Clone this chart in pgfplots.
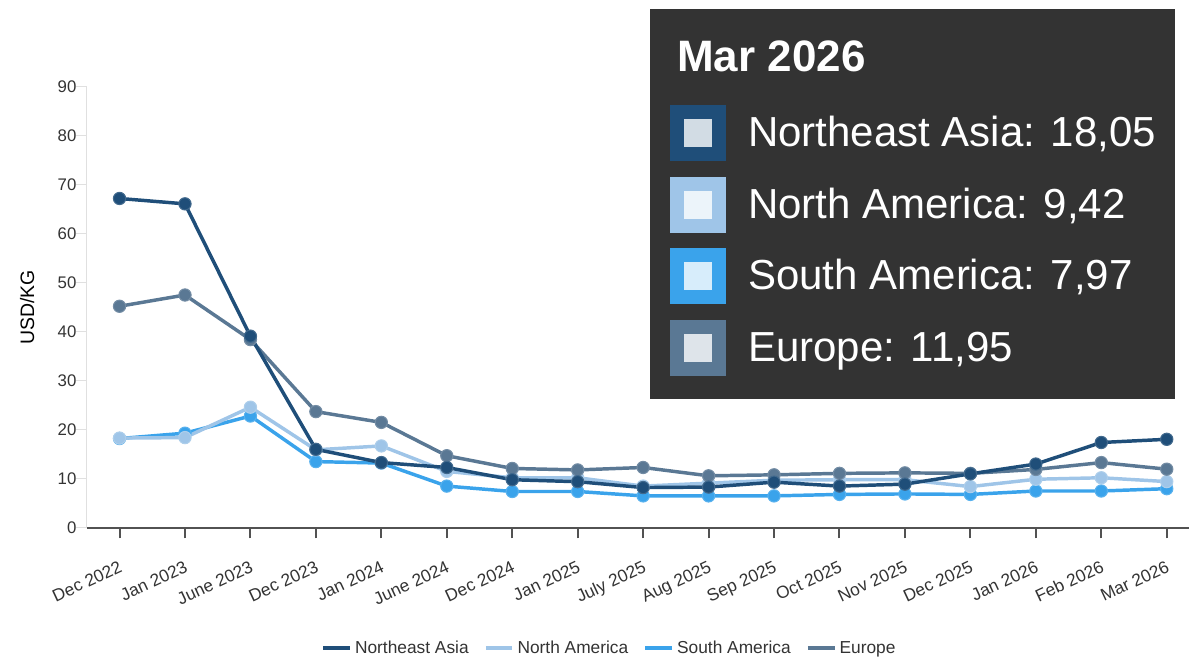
\documentclass[border=0pt]{standalone}
\usepackage{fontspec}
\setmainfont{Liberation Sans}
\usepackage{pgfplots}
\usepackage{pgfplotstable}
\pgfplotsset{compat=1.18}

\definecolor{neasia}{HTML}{1F4E79}
\definecolor{namer}{HTML}{9FC5E8}
\definecolor{samer}{HTML}{3AA3EB}
\definecolor{europe}{HTML}{5A7894}
\definecolor{txt}{HTML}{333333}
\definecolor{tipbg}{HTML}{333333}

% idx: Dec22 Jan23 Jun23 Dec23 Jan24 Jun24 Dec24 Jan25 Jul25 Aug25 Sep25 Oct25 Nov25 Dec25 Jan26 Feb26 Mar26
\pgfplotstableread{
x  NE     NA    SA    EU
0  67.2   18.3  18.2  45.2
1  66.1   18.4  19.3  47.5
2  39.1   24.6  22.8  38.4
3  16.0   15.9  13.5  23.7
4  13.3   16.7  13.2  21.5
5  12.3   11.5  8.5   14.7
6  9.8    10.2  7.4   12.1
7  9.4    10.2  7.4   11.8
8  8.2    8.5   6.5   12.3
9  8.3    9.1   6.5   10.6
10 9.3    9.7   6.5   10.8
11 8.5    9.8   6.8   11.1
12 8.9    9.8   6.9   11.2
13 11.0   8.4   6.8   11.1
14 13.0   9.9   7.5   11.9
15 17.4   10.2  7.5   13.3
16 18.05  9.42  7.97  11.95
}\prices

\begin{document}
\begin{tikzpicture}
\useasboundingbox (0,0) rectangle (891.75pt,-493.5pt);
\begin{axis}[
    scale only axis,
    width=834.5pt, height=330.75pt,
    at={(65.1pt,-395.8pt)}, anchor=south west,
    xmin=-0.5, xmax=16.5,
    ymin=0, ymax=90,
    axis lines*=left,
    x axis line style={draw=txt!85, line width=1.5pt},
    y axis line style={draw=black!12, line width=0.75pt},
    tick align=outside,
    xtick=data,
    xticklabels={Dec 2022,Jan 2023,June 2023,Dec 2023,Jan 2024,June 2024,Dec 2024,Jan 2025,July 2025,Aug 2025,Sep 2025,Oct 2025,Nov 2025,Dec 2025,Jan 2026,Feb 2026,Mar 2026},
    ytick={0,10,...,90},
    xtick style={draw=txt!85, line width=1.5pt, /pgfplots/major tick length=8pt},
    ytick style={draw=black!12, line width=0.75pt, /pgfplots/major tick length=8pt},
    /pgf/number format/assume math mode=true,
    xticklabel style={font=\fontsize{13pt}{14pt}\selectfont, text=txt,
        yshift=-17pt, rotate=25, anchor=north east, inner sep=2pt},
    yticklabel style={font=\fontsize{12.6pt}{14pt}\selectfont, text=txt},
    ylabel={USD/KG},
    ylabel style={at={(axis description cs:-0.0537,0.5)}, anchor=center,
        font=\fontsize{14.6pt}{16pt}\selectfont, text=black},
    legend style={at={(axis description cs:0.4698,-0.2728)}, anchor=center,
        draw=none, fill=none, font=\fontsize{13pt}{15pt}\selectfont, text=txt,
        /tikz/every even column/.append style={column sep=9pt}},
    legend columns=4,
    legend cell align=left,
    legend image code/.code={\draw[line width=3.6pt] (0pt,0pt) -- (20pt,0pt);},
    every axis plot/.append style={line width=2.6pt, mark=*, mark size=4.6pt},
]
\addlegendimage{neasia}\addlegendentry{Northeast Asia}
\addlegendimage{namer}\addlegendentry{North America}
\addlegendimage{samer}\addlegendentry{South America}
\addlegendimage{europe}\addlegendentry{Europe}

\addplot[samer, mark options={fill=samer, draw=samer!85!white, line width=0.8pt}, forget plot] table[x=x, y=SA] {\prices};
\addplot[namer, mark options={fill=namer, draw=namer!85!white, line width=0.8pt}, forget plot] table[x=x, y=NA] {\prices};
\addplot[europe, mark options={fill=europe, draw=europe!85!white, line width=0.8pt}, forget plot] table[x=x, y=EU] {\prices};
\addplot[neasia, mark options={fill=neasia, draw=neasia!85!white, line width=0.8pt}, forget plot] table[x=x, y=NE] {\prices};
\end{axis}

% tooltip box (Mar 2026)
\begin{scope}[x=0.75pt, y=-0.75pt]
\fill[tipbg] (650,9) rectangle (1175,399);
\node[anchor=base west, inner sep=0, text=white, font=\fontsize{33pt}{36pt}\selectfont\bfseries] at (677,71) {Mar 2026};
\foreach \c/\t/\yy in {neasia/{Northeast Asia: 18,05}/105, namer/{North America: 9,42}/177, samer/{South America: 7,97}/248, europe/{Europe: 11,95}/320}{
  \fill[\c] (670,\yy) rectangle ++(56,56);
  \fill[white!80!\c] (684,\yy+14) rectangle ++(28,28);
  \node[anchor=base west, inner sep=0, text=white, font=\fontsize{31.5pt}{34pt}\selectfont] at (748,\yy+41) {\t};
}
\end{scope}
\end{tikzpicture}
\end{document}
